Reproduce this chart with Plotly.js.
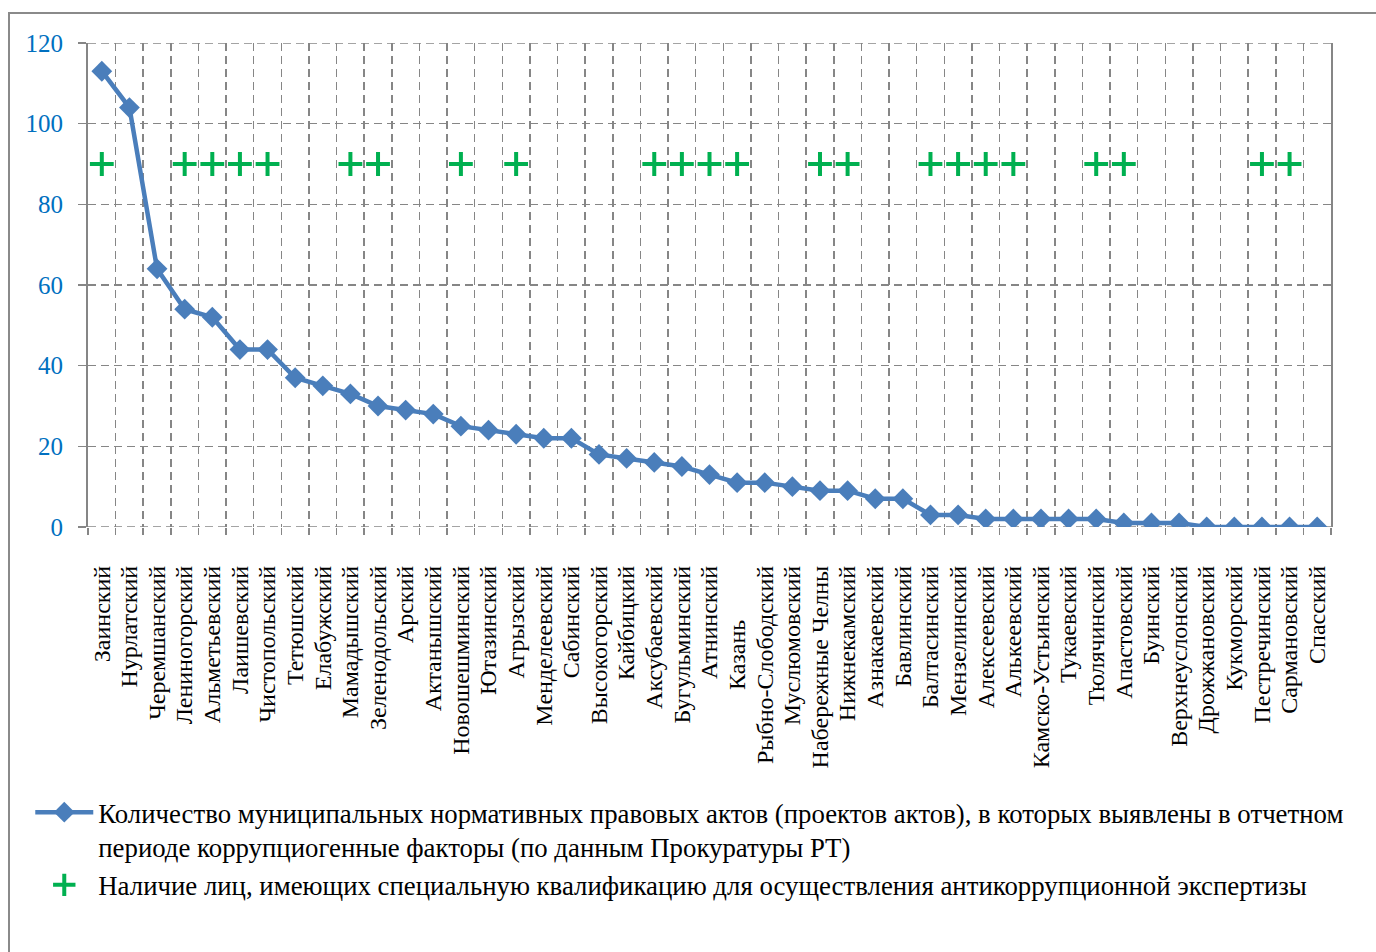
<!DOCTYPE html>
<html>
<head>
<meta charset="utf-8">
<script src="https://cdn.plot.ly/plotly-3.0.1.min.js"></script>
<style>
  html, body { margin: 0; padding: 0; background: #fff; overflow: hidden; }
  #chart { position: absolute; left: 0; top: 0; width: 1376px; height: 952px; }
  #frame { position: absolute; left: 8px; top: 12px; width: 1500px; height: 1200px;
           border-left: 2px solid #8a8a8a; border-top: 2px solid #8a8a8a; pointer-events: none; }
</style>
</head>
<body>
<div id="chart"></div>
<div id="frame"></div>
<script>
const NB = '\u00A0';
const categories = [
  'Заинский','Нурлатский','Черемшанский','Лениногорский','Альметьевский','Лаишевский',
  'Чистопольский','Тетюшский','Елабужский','Мамадышский','Зеленодольский','Арский',
  'Актанышский','Новошешминский','Ютазинский','Агрызский','Менделеевский','Сабинский',
  'Высокогорский','Кайбицкий','Аксубаевский','Бугульминский','Атнинский','Казань',
  'Рыбно-Слободский','Муслюмовский','Набережные Челны','Нижнекамский','Азнакаевский','Бавлинский',
  'Балтасинский','Мензелинский','Алексеевский','Алькеевский','Камско-Устьинский','Тукаевский',
  'Тюлячинский','Апастовский','Буинский','Верхнеуслонский','Дрожжановский','Кукморский',
  'Пестречинский','Сармановский','Спасский'
];
const actsCount = [
  113, 104, 64, 54, 52, 44,
  44, 37, 35, 33, 30, 29,
  28, 25, 24, 23, 22, 22,
  18, 17, 16, 15, 13, 11,
  11, 10, 9, 9, 7, 7,
  3, 3, 2, 2, 2, 2,
  2, 1, 1, 1, 0, 0,
  0, 0, 0
];
// 1 = наличие специалистов
const hasExperts = [
  1, 0, 0, 1, 1, 1,
  1, 0, 0, 1, 1, 0,
  0, 1, 0, 1, 0, 0,
  0, 0, 1, 1, 1, 1,
  0, 0, 1, 1, 0, 0,
  1, 1, 1, 1, 0, 0,
  1, 1, 0, 0, 0, 0,
  1, 1, 0
];
const PLUS_LEVEL = 90;
const yTicks = [0, 20, 40, 60, 80, 100, 120];
const yRange = [0, 120];

const seriesName1 = 'Количество муниципальных нормативных правовых актов (проектов актов), в которых выявлены в отчетном<br>периоде коррупциогенные факторы (по данным Прокуратуры РТ)';
const seriesName2 = 'Наличие лиц, имеющих специальную квалификацию для осуществления антикоррупционной экспертизы';

// tick text: 'Казань' has trailing padding in the original
const tickText = categories.map(c => c === 'Казань' ? c + NB.repeat(9) : c);

const font = 'Liberation Serif, Times New Roman, serif';
const grid = '#868686';
const dash = '8px,5px';

const traces = [
  {
    x: categories, y: actsCount, type: 'scatter', mode: 'lines+markers',
    name: seriesName1,
    line: { color: '#4A7EBB', width: 4.5 },
    marker: { symbol: 'diamond', size: 16, color: '#4A7EBB' }
  },
  {
    x: categories, y: hasExperts.map(f => f ? PLUS_LEVEL : null), type: 'scatter', mode: 'markers',
    name: seriesName2,
    marker: { symbol: 'cross-thin', size: 17, line: { color: '#00B050', width: 4 }, color: '#00B050' }
  }
];

const edgeLine = v => ({
  type: 'line', xref: 'paper', x0: 0, x1: 1, yref: 'y', y0: v, y1: v,
  line: { color: grid, width: 1.5, dash: dash }, layer: 'below'
});

const layout = {
  width: 1376, height: 952,
  margin: { l: 88, r: 45, t: 43, b: 425, autoexpand: false },
  paper_bgcolor: 'rgba(0,0,0,0)', plot_bgcolor: 'rgba(0,0,0,0)',
  font: { family: font, color: '#000' },
  showlegend: true,
  shapes: [edgeLine(yRange[0]), edgeLine(yRange[1])],
  xaxis: {
    type: 'category',
    tickvals: categories, ticktext: tickText,
    tickangle: -90,
    tickson: 'boundaries',
    ticks: 'outside', ticklen: 7, tickcolor: grid, tickwidth: 1.5,
    showgrid: true, gridcolor: grid, griddash: dash, gridwidth: 1.5,
    showline: false, zeroline: false,
    tickfont: { family: font, size: 24, color: '#000' },
    ticklabelstandoff: 33,
    automargin: false,
    range: [-0.5, 44.5]
  },
  yaxis: {
    range: yRange, tickvals: yTicks,
    ticks: 'outside', ticklen: 8, tickcolor: grid, tickwidth: 1.5,
    showgrid: true, gridcolor: grid, griddash: dash, gridwidth: 1.5,
    showline: true, linecolor: grid, linewidth: 2, mirror: true,
    zeroline: false, automargin: false,
    tickfont: { family: font, size: 25, color: '#0070C0' },
    ticklabelstandoff: 10
  },
  legend: {
    xref: 'container', yref: 'container',
    x: 0.022, y: 0.172, xanchor: 'left', yanchor: 'top',
    valign: 'top',
    font: { family: font, size: 26.8, color: '#000' },
    tracegroupgap: 0,
    itemwidth: 58,
    bgcolor: 'rgba(0,0,0,0)'
  }
};

Plotly.newPlot('chart', traces, layout, { displayModeBar: false, staticPlot: true });
</script>
</body>
</html>
